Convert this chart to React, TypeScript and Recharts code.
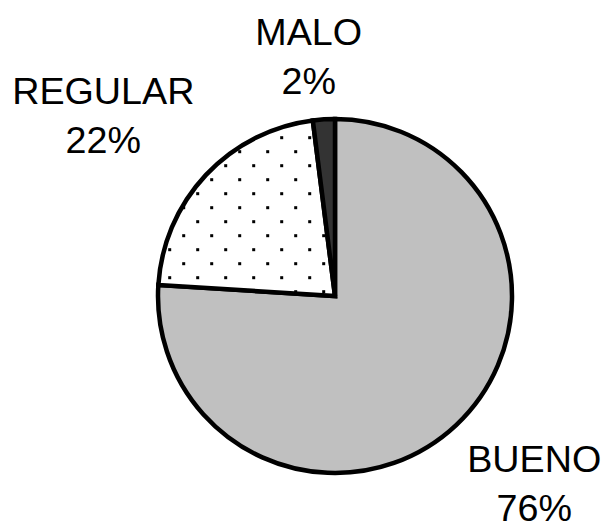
import React from "react";
import { PieChart, Pie, Cell } from "recharts";

// chart data
const CATEGORIES = ["BUENO", "REGULAR", "MALO"];
const PERCENTS = [76, 22, 2];
const FILLS = ["#c0c0c0", "url(#dots)", "#333333"];

const data = CATEGORIES.map((name, i) => ({ name, value: PERCENTS[i] }));

const FONT_SIZE = 37.7;
const LINE_H = 49;
const LABEL_GAP = 47;
const RAD = Math.PI / 180;

// small manual tweaks so labels sit where Excel put them
const LABEL_NUDGE: Record<string, [number, number]> = {
  BUENO: [2, -3],
  REGULAR: [-3, -2],
  MALO: [-9, 20],
};

function renderLabel(props: any) {
  const { cx, cy, midAngle, outerRadius, name, value } = props;
  const cos = Math.cos(-midAngle * RAD);
  const sin = Math.sin(-midAngle * RAD);
  const halfW = name.length * FONT_SIZE * 0.34;
  const halfH = 37;
  const r = outerRadius + LABEL_GAP;
  const [nx, ny] = LABEL_NUDGE[name] ?? [0, 0];
  const x = cx + r * cos + halfW * cos + nx;
  const y = cy + r * sin + halfH * sin + ny;
  return (
    <text
      x={x}
      textAnchor="middle"
      fontFamily="'Liberation Sans', Arial, sans-serif"
      fontSize={FONT_SIZE}
      fill="#000"
    >
      <tspan x={x} y={y - 11}>{name}</tspan>
      <tspan x={x} y={y - 11 + LINE_H}>{value}%</tspan>
    </text>
  );
}

export default function App() {
  return (
    <div
      style={{
        position: "absolute",
        left: 0,
        top: 0,
        width: 606,
        height: 527,
        background: "#fff",
      }}
    >
      <PieChart width={606} height={527} margin={{ top: 0, right: 0, bottom: 0, left: 0 }}>
        <defs>
          <pattern id="dots" patternUnits="userSpaceOnUse" width={28} height={28}>
            <rect width={28} height={28} fill="#fff" />
            <rect x={0.2} y={24.2} width={3} height={3} fill="#000" />
            <rect x={14.2} y={10.2} width={3} height={3} fill="#000" />
          </pattern>
        </defs>
        <Pie
          data={data}
          dataKey="value"
          nameKey="name"
          cx={335}
          cy={296}
          outerRadius={177}
          startAngle={90}
          endAngle={-270}
          stroke="#000"
          strokeWidth={4.5}
          strokeLinejoin="miter"
          label={renderLabel}
          labelLine={false}
          isAnimationActive={false}
        >
          {data.map((entry, i) => (
            <Cell key={entry.name} fill={FILLS[i]} />
          ))}
        </Pie>
      </PieChart>
    </div>
  );
}
